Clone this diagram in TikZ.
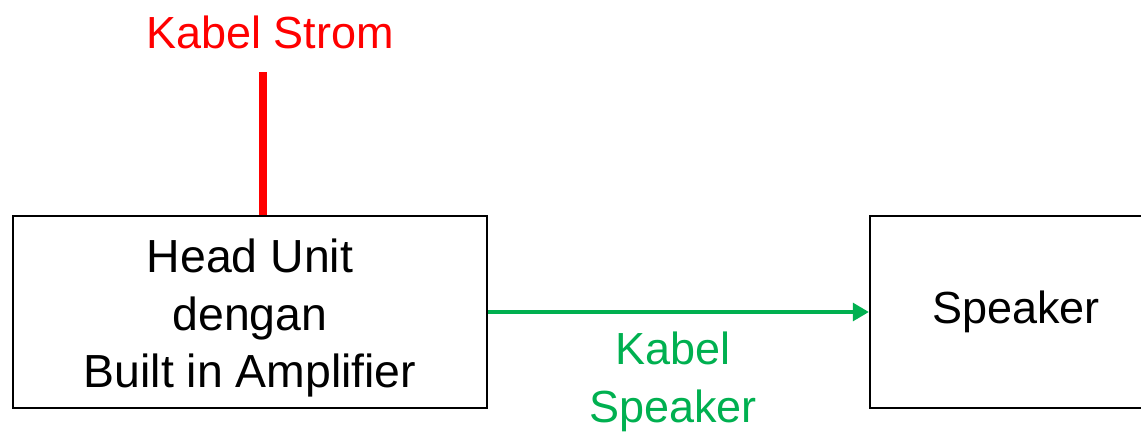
\documentclass[tikz,border=0pt]{standalone}
\usepackage{fontspec}
\setmainfont{Liberation Sans}
\usepackage{tikz}
\usetikzlibrary{arrows.meta}
\usetikzlibrary{positioning}

\definecolor{CABLE_RED}{RGB}{255, 0, 0}
\definecolor{CABLE_GREEN}{RGB}{0, 176, 80}

\begin{document}
\begin{tikzpicture}[x=0.025cm, y=-0.025cm]
				\clip (0, 0) rectangle (1141, 436);
				\fontsize{32}{41}\selectfont
				\node[draw, line width={1.4pt}, minimum width={11.85cm}, minimum height={4.8cm}] (hu) at (250, 312) {};
				\node[align={center}, font={\fontsize{33}{41}\selectfont}] (hu_txt) at (250, 318) {Head Unit\\dengan\\Built in Amplifier};
				\node[draw, line width={1.4pt}, minimum width={7.3cm}, minimum height={4.8cm}] (spk) at (1016, 312) {Speaker};
				\coordinate (strom) at (263, 72);
				\node[text={CABLE_RED}] (strom_lbl) at (270, 32) {Kabel Strom};
				\node[text={CABLE_GREEN}, align={center}] (spk_lbl) at (673, 382) {Kabel\\Speaker};
				\draw[draw={CABLE_RED}, line width={5pt}] (strom) to (strom |- hu.north);
				\draw[-{Triangle[length=11.5pt, width=12.5pt]}, draw={CABLE_GREEN}, line width={3.2pt}] (hu) to (spk);
			\end{tikzpicture}
\end{document}
